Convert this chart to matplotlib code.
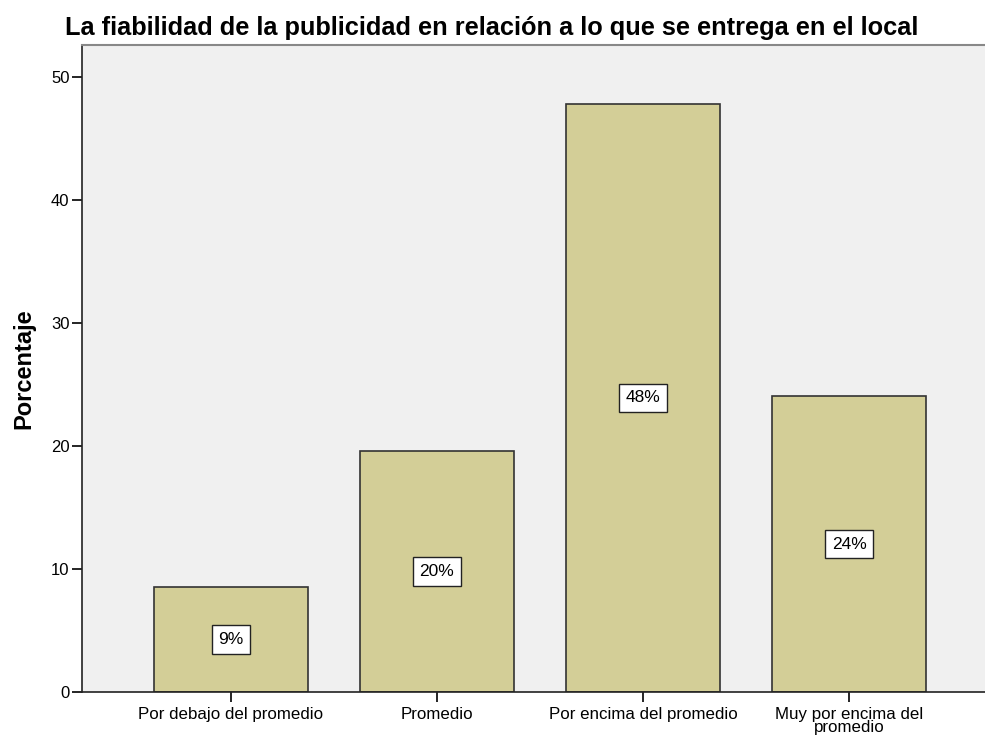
import matplotlib
matplotlib.use("Agg")
import matplotlib.pyplot as plt

categories = ["Por debajo del promedio", "Promedio", "Por encima del promedio",
              "Muy por encima del\npromedio"]
percentages = [8.55, 19.6, 47.8, 24.05]
bar_labels = ["9%", "20%", "48%", "24%"]
y_ticks = [0, 10, 20, 30, 40, 50]

plt.rcParams["font.family"] = ["Liberation Sans", "DejaVu Sans"]

fig = plt.figure(figsize=(9.85, 7.42), dpi=100)
ax = fig.add_axes([0.0832, 0.0674, 0.9168, 0.872])
ax.set_facecolor("#F0F0F0")

x = list(range(len(categories)))
ax.bar(x, percentages, width=0.75, color="#D3CE97", edgecolor="#333333",
       linewidth=1.2, zorder=2)

for xi, val, lab in zip(x, percentages, bar_labels):
    ax.text(xi, val / 2, lab, ha="center", va="center", fontsize=12.5,
            bbox=dict(boxstyle="square,pad=0.38", facecolor="white",
                      edgecolor="#222222", linewidth=1.0), zorder=3)

ax.set_xlim(-0.723, 3.66)
ax.set_ylim(0, 52.6)
ax.set_yticks(y_ticks)
ax.set_xticks(x)
ax.set_xticklabels(categories, fontsize=12.2, linespacing=0.85)
ax.tick_params(axis="y", labelsize=12, length=7, width=1.2, direction="out", pad=2)
ax.tick_params(axis="x", length=7, width=1.2, direction="out", pad=4)

for side in ["left", "bottom"]:
    ax.spines[side].set_linewidth(1.2)
    ax.spines[side].set_color("#222222")
ax.spines["top"].set_color("#888888")
ax.spines["top"].set_linewidth(1.5)
ax.spines["right"].set_visible(False)

ax.set_ylabel("Porcentaje", fontsize=17, fontweight="bold", labelpad=11)
fig.text(0.066, 0.962, "La fiabilidad de la publicidad en relación a lo que se entrega en el local",
         fontsize=18.3, fontweight="bold", ha="left", va="center")

fig.savefig("out.png", dpi=100)
